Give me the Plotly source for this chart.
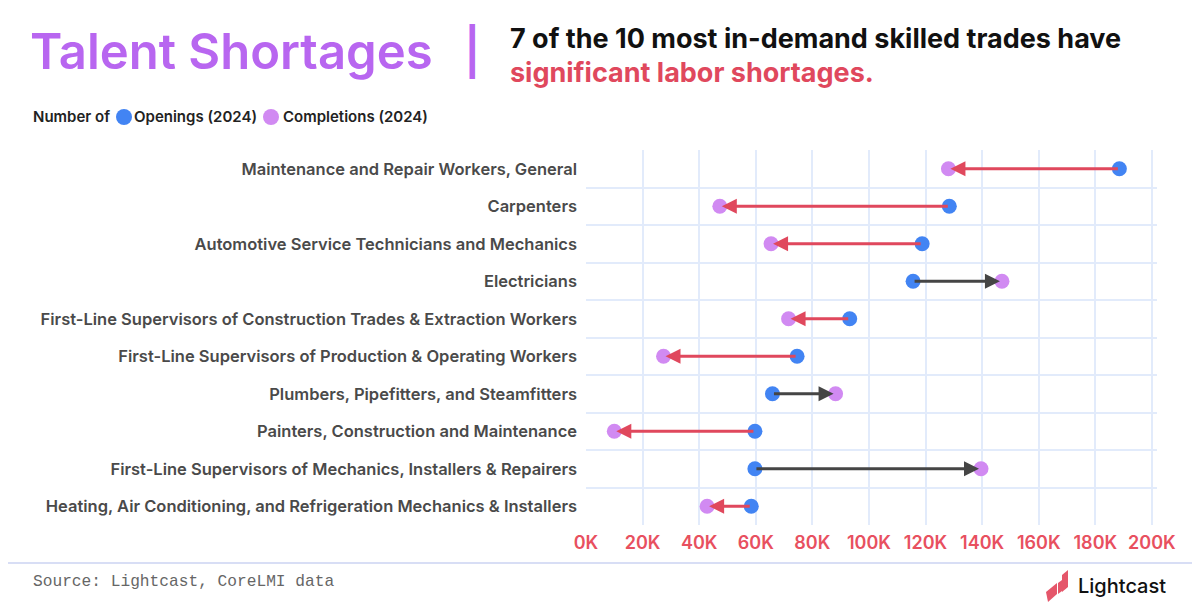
import plotly.graph_objects as go

# occupations, top to bottom
trades = [
    "Maintenance and Repair Workers, General",
    "Carpenters",
    "Automotive Service Technicians and Mechanics",
    "Electricians",
    "First-Line Supervisors of Construction Trades & Extraction Workers",
    "First-Line Supervisors of Production & Operating Workers",
    "Plumbers, Pipefitters, and Steamfitters",
    "Painters, Construction and Maintenance",
    "First-Line Supervisors of Mechanics, Installers & Repairers",
    "Heating, Air Conditioning, and Refrigeration Mechanics & Installers",
]
openings = [188500, 128400, 118800, 115600, 93200, 74600, 65900, 59700, 59700, 58400]
completions = [128100, 47300, 65400, 147000, 71600, 27400, 88200, 10000, 139600, 42800]

x_ticks = [0, 20000, 40000, 60000, 80000, 100000, 120000, 140000, 160000, 180000, 200000]
x_tick_labels = ["0K", "20K", "40K", "60K", "80K", "100K", "120K", "140K", "160K", "180K", "200K"]

BLUE = "#4284f3"
PURPLE = "#d18af2"
RED = "#e0485d"
DARK = "#454545"
GRID = "#e2ebfb"
FONT = "Inter"

rows = list(range(len(trades)))

# page has an 8px body margin, so screen pixel = figure pixel + 8
OFF = 8
L, R, T, B = 586 - OFF, 1157 - OFF, 150 - OFF, 525 - OFF
def px(x):
    return (x - OFF - L) / (R - L)
def py(y):
    return (B - (y - OFF)) / (B - T)

fig = go.Figure()
fig.add_trace(go.Scatter(
    x=openings, y=rows, mode="markers", name="Openings (2024)",
    marker=dict(color=BLUE, size=15), hoverinfo="skip",
))
fig.add_trace(go.Scatter(
    x=completions, y=rows, mode="markers", name="Completions (2024)",
    marker=dict(color=PURPLE, size=15), hoverinfo="skip",
))

# arrows from openings to completions (red = shortage)
for r, o, c in zip(rows, openings, completions):
    fig.add_annotation(
        x=c, y=r, ax=o, ay=r, xref="x", yref="y", axref="x", ayref="y",
        text="", showarrow=True, arrowhead=2, arrowsize=1, arrowwidth=3,
        arrowcolor=RED if c < o else DARK, standoff=2,
    )

def label(x, y, text, font, anchor="left"):
    fig.add_annotation(x=px(x), y=py(y), xref="paper", yref="paper", xanchor=anchor, yanchor="middle",
                       text=text, showarrow=False, font=font)

label(28, 51, "Talent Shortages", dict(family=FONT, size=49, color="#b866f0", weight=600))
label(472, 51, "|", dict(family=FONT, size=46, color="#b866f0", weight=600), anchor="center")
label(508, 38, "7 of the 10 most in-demand skilled trades have", dict(family=FONT, size=27, color="#111111", weight=700))
label(508, 72, "significant labor shortages.", dict(family=FONT, size=27, color=RED, weight=700))

# legend row
leg_font = dict(family=FONT, size=15, color="#222222", weight=600)
label(31, 117, "Number of", leg_font)
label(132, 117, "Openings (2024)", leg_font)
label(281, 117, "Completions (2024)", leg_font)
for cx, col in [(124, BLUE), (271, PURPLE)]:
    fig.add_shape(type="circle", xref="paper", yref="paper",
                  x0=px(cx - 8), x1=px(cx + 8), y0=py(117 + 8), y1=py(117 - 8),
                  fillcolor=col, line=dict(width=0))

label(31, 582, "Source: Lightcast, CoreLMI data", dict(family="Liberation Mono", size=16.2, color="#666666"))
label(1076, 586, "Lightcast", dict(family=FONT, size=20, color="#111111", weight=500))

# footer rule
fig.add_shape(type="line", xref="paper", yref="paper", x0=px(0), x1=px(1210), y0=py(563), y1=py(563),
              line=dict(color="#d8def5", width=2))

# logo mark
def path(pts):
    return "M " + " L ".join(f"{px(a)},{py(b)}" for a, b in pts) + " Z"
fig.add_shape(type="path", xref="paper", yref="paper",
              path=path([(1046, 592), (1057, 583), (1057, 594), (1048, 602)]),
              fillcolor="#e5566a", line=dict(width=0))
fig.add_shape(type="path", xref="paper", yref="paper",
              path=path([(1058, 583), (1066, 577), (1066, 588), (1058, 594)]),
              fillcolor="#e5566a", line=dict(width=0))
fig.add_shape(type="path", xref="paper", yref="paper",
              path=path([(1062, 575), (1068, 570), (1068, 587), (1062, 592)]),
              fillcolor="#e5566a", line=dict(width=0))

fig.update_layout(
    width=1200, height=610,
    margin=dict(l=L, r=1200 - R, t=T, b=610 - B),
    paper_bgcolor="white", plot_bgcolor="white",
    showlegend=False,
    xaxis=dict(
        range=[0, 201800], tickvals=x_ticks, ticktext=x_tick_labels,
        showgrid=True, gridcolor=GRID, gridwidth=1.5, zeroline=False, showline=False,
        tickfont=dict(family=FONT, size=18, color="#e8505f", weight=600),
        ticks="", ticklabelstandoff=5,
    ),
    yaxis=dict(
        range=[9.5, -0.5], tickvals=rows, ticktext=trades,
        showgrid=False, zeroline=False, showline=False, ticks="",
        tickfont=dict(family=FONT, size=16.5, color="#4a4a4a", weight=600),
        ticklabelstandoff=8,
        minor=dict(tick0=0.5, dtick=1, showgrid=True, gridcolor=GRID, gridwidth=1.5, ticks=""),
    ),
)

fig.write_html("out.html")
